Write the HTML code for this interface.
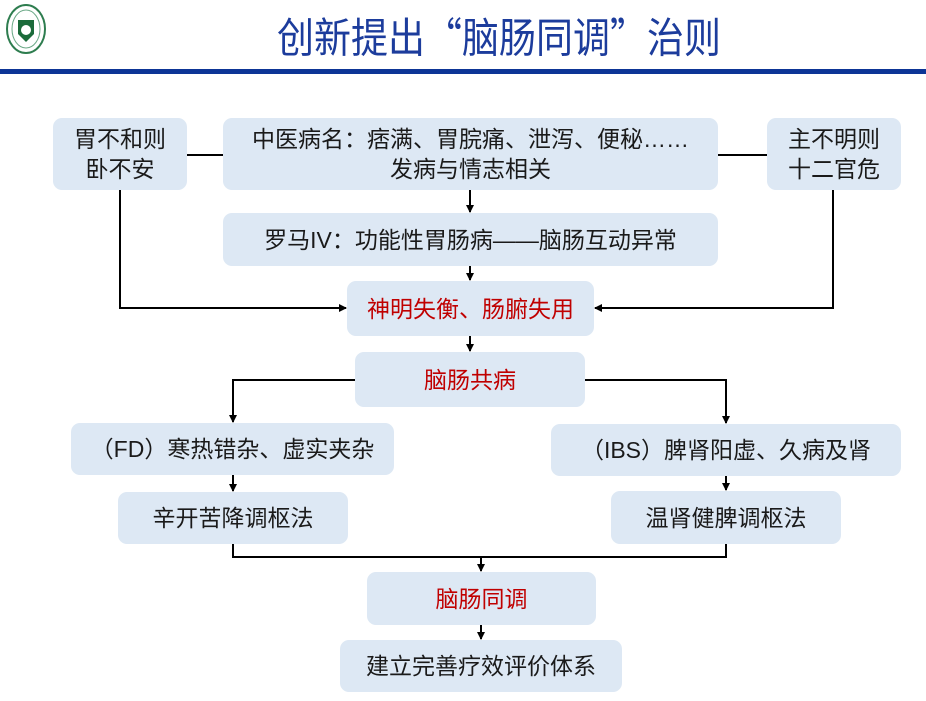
<!DOCTYPE html>
<html><head><meta charset="utf-8"><style>
html,body{margin:0;padding:0;background:#fff}
body{width:926px;height:701px;position:relative;overflow:hidden;font-family:"Liberation Sans","Noto Sans CJK SC",sans-serif}
.t{position:absolute;left:36px;width:926px;top:10px;text-align:center;font-size:37px;color:#1c3c9c;line-height:50px;transform:scaleY(1.12)}
.q{font-family:"Noto Sans CJK SC",sans-serif}
.bar{position:absolute;left:0;top:69px;width:926px;height:5px;background:#0d3596}
.b{position:absolute;background:#dde8f4;border-radius:9px;display:flex;align-items:center;justify-content:center;text-align:center;font-size:23px;color:#1a1a1a;line-height:30px;white-space:nowrap}
.r{color:#c00000}
svg{position:absolute;left:0;top:0}
</style></head><body>
<svg width="926" height="701">
<defs><marker id="a" markerWidth="8" markerHeight="8" refX="7" refY="4" orient="auto" markerUnits="userSpaceOnUse"><path d="M0,0L8,4L0,8z" fill="#000"/></marker></defs>
<g stroke="#000" stroke-width="2" fill="none">
<path d="M187,155H223M718,155H767"/>
<path d="M470,190V212" marker-end="url(#a)"/>
<path d="M470,266V280" marker-end="url(#a)"/>
<path d="M120,190V308H346" marker-end="url(#a)"/>
<path d="M833,190V308H595" marker-end="url(#a)"/>
<path d="M470,336V351" marker-end="url(#a)"/>
<path d="M355,380H233V422" marker-end="url(#a)"/>
<path d="M585,380H726V423" marker-end="url(#a)"/>
<path d="M233,475V491" marker-end="url(#a)"/>
<path d="M726,476V490" marker-end="url(#a)"/>
<path d="M233,544V557H726V543"/>
<path d="M481,557V571" marker-end="url(#a)"/>
<path d="M481,625V639" marker-end="url(#a)"/>
</g>
<g>
<ellipse cx="26" cy="29" rx="19" ry="24" fill="#fff" stroke="#2e7d4f" stroke-width="2"/>
<ellipse cx="26" cy="29" rx="14" ry="19" fill="none" stroke="#6aa886" stroke-width="1"/>
<path d="M18,20h16v14l-8,8l-8-8z" fill="#1b6b3a"/>
<circle cx="26" cy="30" r="5" fill="#fff"/>
</g>
</svg>
<div class="t">创新提出<span class="q">“</span>脑肠同调<span class="q">”</span>治则</div>
<div class="bar"></div>
<div class="b" style="left:53px;top:118px;width:134px;height:72px">胃不和则<br>卧不安</div>
<div class="b" style="left:223px;top:118px;width:495px;height:72px">中医病名：痞满、胃脘痛、泄泻、便秘……<br>发病与情志相关</div>
<div class="b" style="left:767px;top:118px;width:134px;height:72px">主不明则<br>十二官危</div>
<div class="b" style="left:223px;top:213px;width:495px;height:53px">罗马IV：功能性胃肠病——脑肠互动异常</div>
<div class="b r" style="left:347px;top:281px;width:247px;height:55px">神明失衡、肠腑失用</div>
<div class="b r" style="left:355px;top:352px;width:230px;height:55px">脑肠共病</div>
<div class="b" style="left:71px;top:423px;width:323px;height:52px">（FD）寒热错杂、虚实夹杂</div>
<div class="b" style="left:551px;top:424px;width:350px;height:52px">（IBS）脾肾阳虚、久病及肾</div>
<div class="b" style="left:118px;top:492px;width:230px;height:52px">辛开苦降调枢法</div>
<div class="b" style="left:611px;top:491px;width:230px;height:53px">温肾健脾调枢法</div>
<div class="b r" style="left:367px;top:572px;width:229px;height:53px">脑肠同调</div>
<div class="b" style="left:340px;top:640px;width:282px;height:52px">建立完善疗效评价体系</div>
</body></html>
